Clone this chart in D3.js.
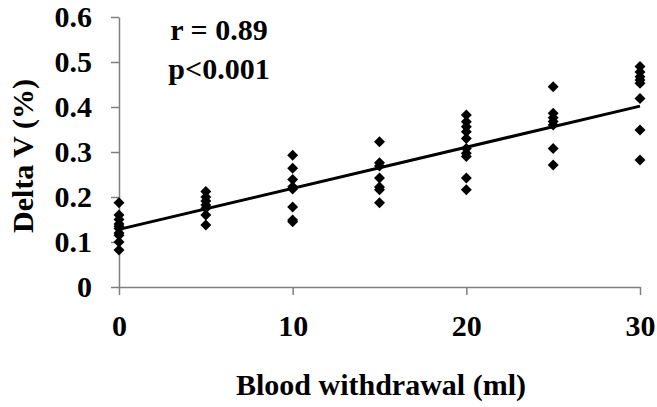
<!DOCTYPE html>
<html>
<head>
<meta charset="utf-8">
<script src="https://cdn.jsdelivr.net/npm/d3@7"></script>
<style>
  body { margin: 0; background: #fff; }
  svg text { font-family: "Liberation Serif", "Times New Roman", serif; font-weight: bold; fill: #000; }
</style>
</head>
<body>
<div class="artboard"></div>
<script>
// blood withdrawal (ml) per group, delta V (%)
var withdrawals = [0, 5, 10, 15, 20, 25, 30];
var deltaV0 = [0.187, 0.16, 0.15, 0.14, 0.135, 0.13, 0.12, 0.115, 0.10, 0.082];
var deltaV5 = [0.212, 0.20, 0.191, 0.182, 0.175, 0.16, 0.138];
var deltaV10 = [0.293, 0.264, 0.239, 0.223, 0.218, 0.178, 0.149, 0.145];
var deltaV15 = [0.323, 0.276, 0.269, 0.242, 0.222, 0.216, 0.187];
var deltaV20 = [0.382, 0.367, 0.356, 0.345, 0.33, 0.308, 0.297, 0.29, 0.242, 0.216];
var deltaV25 = [0.445, 0.386, 0.376, 0.368, 0.36, 0.308, 0.271];
var deltaV30 = [0.49, 0.478, 0.467, 0.46, 0.453, 0.419, 0.349, 0.282];
var fitIntercept = 0.128;
var fitSlope = 0.00913;
var xTicks = [0, 10, 20, 30];
var yTicks = [0, 0.1, 0.2, 0.3, 0.4, 0.5, 0.6];
var statLines = ['r = 0.89', 'p<0.001'];

var groups = [deltaV0, deltaV5, deltaV10, deltaV15, deltaV20, deltaV25, deltaV30];
var points = [];
groups.forEach(function(vs, idx) {
  vs.forEach(function(v) { points.push({ x: withdrawals[idx], v: v }); });
});

var width = 657, height = 407;
var svg = d3.select('.artboard').append('svg')
  .attr('width', width)
  .attr('height', height);

var x = d3.scaleLinear().domain([0, 30]).range([119, 640]);
var y = d3.scaleLinear().domain([0, 0.6]).range([287, 17]);
var axisColor = '#808080';

// axes
var gx = svg.append('g')
  .attr('transform', 'translate(0,' + y(0) + ')')
  .call(d3.axisBottom(x).tickValues(xTicks).tickSizeInner(8).tickSizeOuter(0).tickPadding(20)
    .tickFormat(d3.format('d')));
var gy = svg.append('g')
  .attr('transform', 'translate(' + x(0) + ',0)')
  .call(d3.axisLeft(y).tickValues(yTicks).tickSizeInner(8).tickSizeOuter(0).tickPadding(19)
    .tickFormat(function(d) { return d === 0 ? '0' : d3.format('.1f')(d); }));

[gx, gy].forEach(function(g) {
  g.attr('font-family', null);
  g.select('.domain').attr('stroke', axisColor).attr('stroke-width', 1.5);
  g.selectAll('.tick line').attr('stroke', axisColor).attr('stroke-width', 1.5);
  g.selectAll('.tick text').attr('font-size', 30);
});

// regression line
svg.append('line')
  .attr('x1', x(0)).attr('y1', y(fitIntercept))
  .attr('x2', x(30)).attr('y2', y(fitIntercept + fitSlope * 30))
  .attr('stroke', '#000')
  .attr('stroke-width', 3);

// points (diamonds)
var diamond = d3.symbol().type(d3.symbolSquare).size(60);
svg.append('g').selectAll('path')
  .data(points)
  .join('path')
  .attr('d', diamond)
  .attr('transform', function(d) { return 'translate(' + x(d.x) + ',' + y(d.v) + ') rotate(45)'; })
  .attr('fill', '#000');

// axis titles
svg.append('text')
  .attr('x', 381).attr('y', 395)
  .attr('text-anchor', 'middle')
  .attr('font-size', 30)
  .text('Blood withdrawal (ml)');

svg.append('text')
  .attr('transform', 'translate(33,156) rotate(-90)')
  .attr('text-anchor', 'middle')
  .attr('font-size', 30)
  .text('Delta V (%)');

// stats annotation
svg.append('g').selectAll('text')
  .data(statLines)
  .join('text')
  .attr('x', 219)
  .attr('y', function(d, i) { return 40 + i * 39; })
  .attr('text-anchor', 'middle')
  .attr('font-size', 30)
  .text(function(d) { return d; });
</script>
</body>
</html>
